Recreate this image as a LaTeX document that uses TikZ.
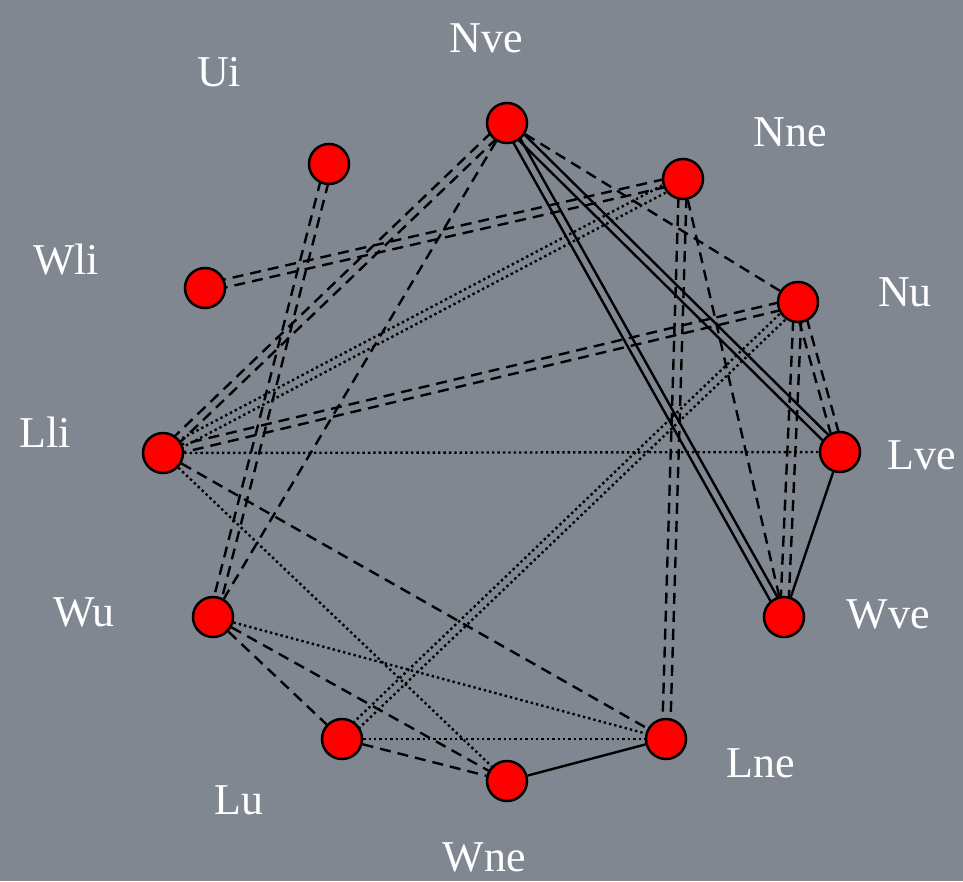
\documentclass[tikz,border=0pt]{standalone}
\usepackage{fontspec}
\setmainfont{Liberation Serif}
\usetikzlibrary{calc,backgrounds}
\definecolor{slate}{RGB}{129,135,145}

% two parallel strokes between nodes #2 and #3, drawn with style #1
\newcommand\twinlink[3]{%
  \draw[link,#1] ($(#2)!4pt!90:(#3)$) -- ($(#3)!4pt!-90:(#2)$);
  \draw[link,#1] ($(#2)!4pt!-90:(#3)$) -- ($(#3)!4pt!90:(#2)$);
}

\begin{document}
\begin{tikzpicture}[x=1pt,y=-1pt,
  vertex/.style={circle,draw=black,line width=2.5pt,fill=red,minimum size=40pt,inner sep=0pt},
  tag/.style={text=white,inner sep=0pt,font=\fontsize{44}{44}\selectfont},
  link/.style={line width=2.4pt,black},
  dsh/.style={dash pattern=on 11pt off 7pt},
  dot/.style={dash pattern=on 2.4pt off 3pt}]

% vertices
\node[vertex] (Nve) at (507,123) {};
\node[vertex] (Ui)  at (329,164) {};
\node[vertex] (Nne) at (683,179) {};
\node[vertex] (Wli) at (205,288) {};
\node[vertex] (Nu)  at (798,302) {};
\node[vertex] (Lli) at (163,453) {};
\node[vertex] (Lve) at (840,452) {};
\node[vertex] (Wu)  at (213,617) {};
\node[vertex] (Wve) at (784,617) {};
\node[vertex] (Lu)  at (342,739) {};
\node[vertex] (Lne) at (666,739) {};
\node[vertex] (Wne) at (507,781) {};

% labels
\node[tag] (tNve) at (486,38)  {Nve};
\node[tag] (tUi)  at (219,72)  {Ui};
\node[tag] (tNne) at (790,132) {Nne};
\node[tag] (tWli) at (66,260)  {Wli};
\node[tag] (tNu)  at (905,292) {Nu};
\node[tag] (tLli) at (45,432)  {Lli};
\node[tag] (tLve) at (922,455) {Lve};
\node[tag] (tWu)  at (84,612)  {Wu};
\node[tag] (tWve) at (888,614) {Wve};
\node[tag] (tLu)  at (239,800) {Lu};
\node[tag] (tLne) at (761,763) {Lne};
\node[tag] (tWne) at (484,857) {Wne};

\begin{pgfonlayer}{background}
\fill[slate] (0,0) rectangle (963,881);

% paired dashed links
\twinlink{dsh}{Nve}{Lli}
\twinlink{dsh}{Nne}{Wli}
\twinlink{dsh}{Nne}{Lne}
\twinlink{dsh}{Nu}{Lli}
\twinlink{dsh}{Nu}{Wve}
\twinlink{dsh}{Nu}{Lve}
\twinlink{dsh}{Ui}{Wu}
% paired dotted links
\twinlink{dot}{Nne}{Lli}
\twinlink{dot}{Nu}{Lu}
% paired solid links
\twinlink{}{Nve}{Wve}
\twinlink{}{Nve}{Lve}

% single dashed links
\draw[link,dsh] (Nve) -- (Wu);
\draw[link,dsh] (Nve) -- (Nu);
\draw[link,dsh] (Nne) -- (Wve);
\draw[link,dsh] (Lli) -- (Lne);
\draw[link,dsh] (Wu) -- (Wne);
\draw[link,dsh] (Wu) -- (Lu);
\draw[link,dsh] (Lu) -- (Wne);
% single dotted links
\draw[link,dot] (Lli) -- (Lve);
\draw[link,dot] (Lli) -- (Wne);
\draw[link,dot] (Wu) -- (Lne);
\draw[link,dot] (Lu) -- (Lne);
% single solid links
\draw[link] (Lve) -- (Wve);
\draw[link] (Lne) -- (Wne);
\end{pgfonlayer}
\end{tikzpicture}
\end{document}
